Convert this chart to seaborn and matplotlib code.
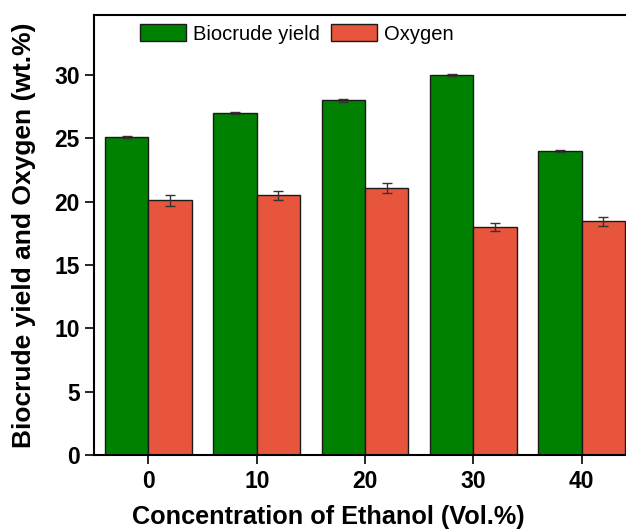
import numpy as np
import pandas as pd
import matplotlib
matplotlib.use("Agg")
import matplotlib.pyplot as plt
import seaborn as sns

# data
ethanol = ["0", "10", "20", "30", "40"]
biocrude = [25.1, 27.0, 28.0, 30.0, 24.0]
biocrude_err = [0.1, 0.1, 0.1, 0.1, 0.1]
oxygen = [20.1, 20.5, 21.1, 18.0, 18.45]
oxygen_err = [0.45, 0.37, 0.38, 0.34, 0.34]

df = pd.DataFrame({
    "ethanol": ethanol * 2,
    "value": biocrude + oxygen,
    "series": ["Biocrude yield"] * 5 + ["Oxygen"] * 5,
})

sns.set_style("ticks")
plt.rcParams["font.family"] = ["Liberation Sans", "DejaVu Sans"]
plt.rcParams["text.color"] = "black"
plt.rcParams["axes.labelcolor"] = "black"
plt.rcParams["xtick.color"] = "black"
plt.rcParams["ytick.color"] = "black"

fig = plt.figure(figsize=(6.26, 5.29), dpi=100)
ax = fig.add_axes([0.1506, 0.1399, 0.8652, 0.8318])

sns.barplot(data=df, x="ethanol", y="value", hue="series", order=ethanol,
            palette=["#008000", "#E8553D"], saturation=1, errorbar=None, width=0.8,
            edgecolor="#1a1a1a", linewidth=1.0, ax=ax)

# error bars at bar centres
for cont, err in zip(ax.containers, [biocrude_err, oxygen_err]):
    xs = [p.get_x() + p.get_width() / 2 for p in cont.patches]
    ys = [p.get_height() for p in cont.patches]
    ax.errorbar(xs, ys, yerr=err, fmt="none", ecolor="#333333",
                elinewidth=1.0, capsize=3.5, capthick=1.0)

ax.set_xlim(-0.5, 4.5)
ax.set_ylim(0, 34.75)
ax.set_yticks([0, 5, 10, 15, 20, 25, 30])
ax.set_xlabel("Concentration of Ethanol (Vol.%)", fontsize=18.2, fontweight="bold")
ax.set_ylabel("Biocrude yield and Oxygen (wt.%)", fontsize=19, fontweight="bold")
ax.xaxis.set_label_coords(0.433, -0.141)
ax.yaxis.set_label_coords(-0.13, 0.5)
ax.xaxis.label.set_va("center")
ax.yaxis.label.set_va("center")
ax.tick_params(axis="both", labelsize=16.5, width=1.2, length=6.5, direction="out", pad=4)
for lab in ax.get_xticklabels() + ax.get_yticklabels():
    lab.set_fontweight("bold")

for s in ["left", "top", "bottom"]:
    ax.spines[s].set_linewidth(1.5)
    ax.spines[s].set_color("black")
ax.spines["right"].set_visible(False)

ax.legend(loc="upper left", bbox_to_anchor=(0.058, 1.011), ncol=2, frameon=False,
          fontsize=14.5, handlelength=2.3, handleheight=0.93, handletextpad=0.33,
          columnspacing=0.55, borderaxespad=0.3)

plt.savefig("out.png", dpi=100)
